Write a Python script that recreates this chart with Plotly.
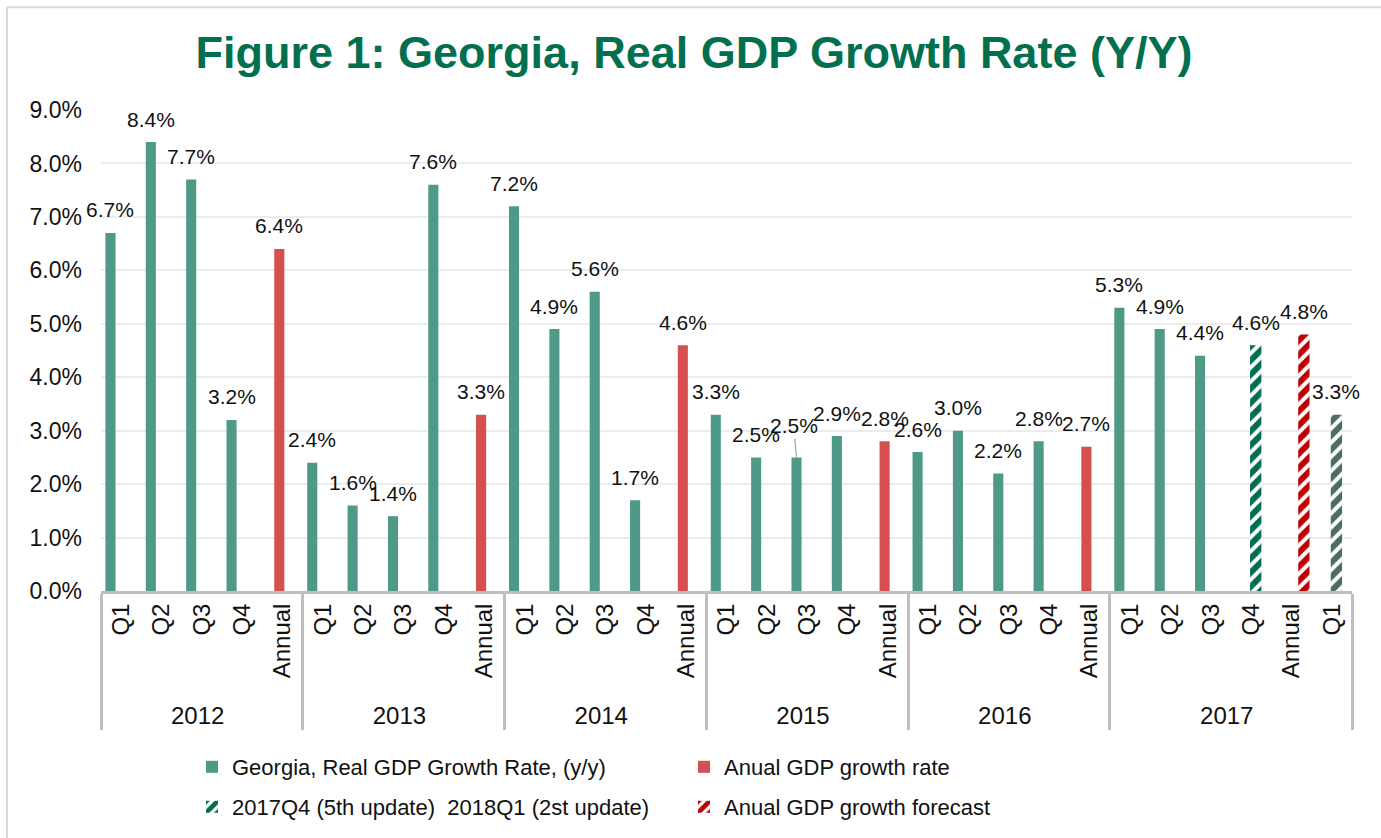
import plotly.graph_objects as go

# ---------------- data ----------------
years = ["2012", "2013", "2014", "2015", "2016", "2017"]
periods_by_year = [
    ["Q1", "Q2", "Q3", "Q4", "Annual"],
    ["Q1", "Q2", "Q3", "Q4", "Annual"],
    ["Q1", "Q2", "Q3", "Q4", "Annual"],
    ["Q1", "Q2", "Q3", "Q4", "Annual"],
    ["Q1", "Q2", "Q3", "Q4", "Annual"],
    ["Q1", "Q2", "Q3", "Q4", "Annual", "Q1\u200b"],
]

quarterly_years = ["2012"] * 4 + ["2013"] * 4 + ["2014"] * 4 + ["2015"] * 4 + ["2016"] * 4 + ["2017"] * 3
quarterly_periods = ["Q1", "Q2", "Q3", "Q4"] * 5 + ["Q1", "Q2", "Q3"]
quarterly_values = [6.7, 8.4, 7.7, 3.2,
                    2.4, 1.6, 1.4, 7.6,
                    7.2, 4.9, 5.6, 1.7,
                    3.3, 2.5, 2.5, 2.9,
                    2.6, 3.0, 2.2, 2.8,
                    5.3, 4.9, 4.4]

annual_years = ["2012", "2013", "2014", "2015", "2016"]
annual_periods = ["Annual"] * 5
annual_values = [6.4, 3.3, 4.6, 2.8, 2.7]

update_years = ["2017", "2017"]
update_periods = ["Q4", "Q1\u200b"]
update_values = [4.6, 3.3]

forecast_years = ["2017"]
forecast_periods = ["Annual"]
forecast_values = [4.8]

series_names = [
    "Georgia, Real GDP Growth Rate, (y/y)",
    "Anual GDP growth rate",
    "2017Q4 (5th update)  2018Q1 (2st update)",
    "Anual GDP growth forecast",
]

# ---------------- styling ----------------
FONT = "Liberation Sans, Arial, sans-serif"
GREEN = "#4e9a87"
RED = "#d64f4f"
HATCH_GREEN = ["#006e4e", "#4b6e60"]
HATCH_RED = "#c00000"
TITLE_COLOR = "#02704f"

W, H = 1381, 838
ML, MR, MT, MB = 101, 29, 110, 246
PW, PH = W - ML - MR, H - MT - MB

n_cats = sum(len(p) for p in periods_by_year)
cat_px = PW / n_cats


def off(px):
    return px / cat_px


BW = 0.25
BWH = 0.28
centers = {"q": off(-10.7), "a": off(-3.3), "u": off(4.6), "f": off(12.4)}

cat_index = {}
k = 0
for y, plist in zip(years, periods_by_year):
    for p in plist:
        cat_index[(y, p)] = k
        k += 1

fig = go.Figure()

fig.add_trace(go.Bar(
    x=[quarterly_years, quarterly_periods], y=quarterly_values, name=series_names[0],
    marker=dict(color=GREEN, line=dict(width=0)),
    width=BW, offset=centers["q"] - BW / 2, legend="legend",
))
fig.add_trace(go.Bar(
    x=[annual_years, annual_periods], y=annual_values, name=series_names[1],
    marker=dict(color=RED, line=dict(width=0)),
    width=BW, offset=centers["a"] - BW / 2, legend="legend",
))
fig.add_trace(go.Bar(
    x=[update_years, update_periods], y=update_values, name=series_names[2],
    marker=dict(color="white", line=dict(width=0),
                pattern=dict(shape="/", fgcolor=HATCH_GREEN, bgcolor="white",
                             fgopacity=1, size=10, solidity=0.6)),
    width=BWH, offset=centers["u"] - BWH / 2, legend="legend2",
))
fig.add_trace(go.Bar(
    x=[forecast_years, forecast_periods], y=forecast_values, name=series_names[3],
    marker=dict(color="white", line=dict(width=0),
                pattern=dict(shape="/", fgcolor=HATCH_RED, bgcolor="white",
                             fgopacity=1, size=10, solidity=0.6)),
    width=BWH, offset=centers["f"] - BWH / 2, legend="legend2",
))

annotations = []
groups = [
    (quarterly_years, quarterly_periods, quarterly_values, centers["q"]),
    (annual_years, annual_periods, annual_values, centers["a"]),
    (update_years, update_periods, update_values, centers["u"]),
    (forecast_years, forecast_periods, forecast_values, centers["f"]),
]
for ys, ps, vs, c in groups:
    for y, p, v in zip(ys, ps, vs):
        xpos = cat_index[(y, p)] + c
        txt = f"{v:.1f}%"
        if (y, p) == ("2015", "Q3"):
            annotations.append(dict(
                x=xpos, y=v, xref="x", yref="y", text=txt, showarrow=True,
                arrowhead=0, arrowwidth=1.2, arrowcolor="#a6a6a6",
                ax=-3, ay=-32, standoff=0,
                font=dict(family=FONT, size=21, color="#111111"),
            ))
        else:
            annotations.append(dict(
                x=xpos, y=v, xref="x", yref="y", text=txt, showarrow=False,
                yanchor="middle", yshift=23,
                font=dict(family=FONT, size=21, color="#111111"),
            ))


def px_to_paper_x(px):
    return (px - ML) / PW


def px_to_paper_y(py):
    return (H - MB - py) / PH


shapes = [
    dict(type="line", xref="paper", yref="paper",
         x0=px_to_paper_x(7), x1=px_to_paper_x(W + 5),
         y0=px_to_paper_y(7), y1=px_to_paper_y(7),
         line=dict(color="#d9d9d9", width=2)),
    dict(type="line", xref="paper", yref="paper",
         x0=px_to_paper_x(7), x1=px_to_paper_x(7),
         y0=px_to_paper_y(7), y1=px_to_paper_y(H + 5),
         line=dict(color="#d9d9d9", width=2)),
]

legend_common = dict(
    orientation="h", xanchor="left", yanchor="middle",
    font=dict(family=FONT, size=22, color="#111111"),
    bgcolor="rgba(0,0,0,0)", entrywidth=447, entrywidthmode="pixels",
    itemclick=False, itemdoubleclick=False, traceorder="normal",
)

fig.update_layout(
    width=W, height=H,
    margin=dict(l=ML, r=MR, t=MT, b=MB),
    paper_bgcolor="white", plot_bgcolor="white",
    barmode="overlay",
    font=dict(family=FONT, size=22, color="#111111"),
    title=dict(text="Figure 1: Georgia, Real GDP Growth Rate (Y/Y)",
               x=694 / W, xanchor="center", xref="container",
               y=1 - 52 / H, yanchor="middle", yref="container",
               font=dict(family=FONT, size=45, color=TITLE_COLOR, weight="bold")),
    xaxis=dict(
        type="multicategory", range=[-0.5, n_cats - 0.5], autorange=False,
        automargin=False,
        showline=True, linecolor="#bfbfbf", linewidth=3,
        showdividers=True, dividercolor="#bfbfbf", dividerwidth=3,
        tickangle=-90, ticks="", showgrid=False,
        tickfont=dict(family=FONT, size=24, color="#111111"),
    ),
    yaxis=dict(
        range=[0, 9], dtick=1, tickformat=".1f", ticksuffix="%",
        automargin=False,
        showgrid=True, gridcolor="#ececec", gridwidth=2,
        zeroline=False, showline=False, ticks="",
        ticklabelstandoff=18,
        tickfont=dict(family=FONT, size=23, color="#111111"),
    ),
    legend=dict(x=px_to_paper_x(192), y=(H - MB - 767) / PH, **legend_common),
    legend2=dict(x=px_to_paper_x(192), y=(H - MB - 807) / PH, **legend_common),
    annotations=annotations,
    shapes=shapes,
    showlegend=True,
)

fig.write_html(
    "out.html",
    config={"displayModeBar": False},
    post_script="document.body.style.margin='0px';document.body.style.overflow='hidden';",
)
